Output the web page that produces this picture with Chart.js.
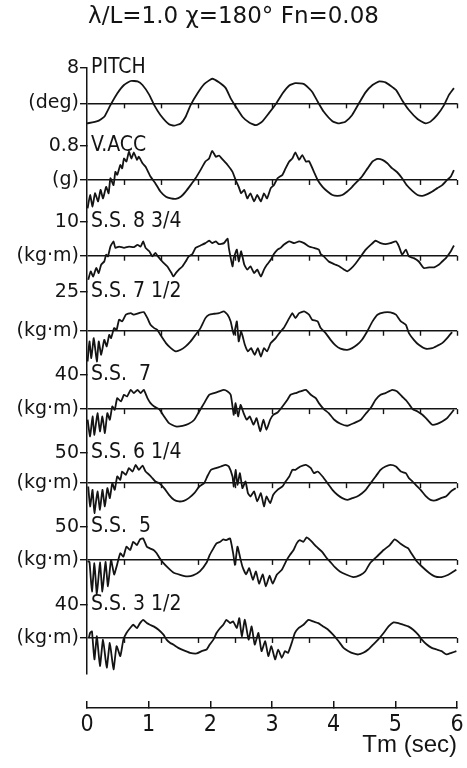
<!DOCTYPE html>
<html>
<head>
<meta charset="utf-8">
<title>Pitch, vertical acceleration and bending moments</title>
<script src="https://cdn.jsdelivr.net/npm/chart.js@4.4.1/dist/chart.umd.min.js"></script>
<style>
  body { margin: 0; background: #fff; }
</style>
</head>
<body>
<canvas id="chart" width="467" height="768"></canvas>
<script>
const titleText = 'λ/L=1.0 χ=180° Fn=0.08'
const channelNames = ['PITCH', 'V.ACC', 'S.S. 8 3/4', 'S.S. 7 1/2', 'S.S.  7', 'S.S. 6 1/4', 'S.S.  5', 'S.S. 3 1/2']
const channelUnits = ['(deg)', '(g)', '(kg·m)', '(kg·m)', '(kg·m)', '(kg·m)', '(kg·m)', '(kg·m)']
const scaleTicks = ['8', '0.8', '10', '25', '40', '50', '50', '40']
const timeTicks = [0, 1, 2, 3, 4, 5, 6]
const markInterval = 0.6

// [time (s), value] pairs for each record
const pitch = [[0.00,-4.5],[0.17,-4.0],[0.28,-3.0],[0.38,-0.4],[0.49,2.2],[0.60,4.1],[0.71,5.0],[0.82,4.9],[0.90,4.1],[1.01,1.9],[1.09,-0.4],[1.19,-2.6],[1.33,-4.7],[1.41,-5.0],[1.52,-4.5],[1.60,-3.0],[1.68,-0.4],[1.79,2.2],[1.90,4.3],[2.03,5.5],[2.14,4.7],[2.25,3.4],[2.33,1.1],[2.41,-0.7],[2.52,-3.0],[2.63,-4.3],[2.74,-4.9],[2.84,-4.1],[2.95,-2.2],[3.06,-0.2],[3.17,2.2],[3.28,4.0],[3.38,4.5],[3.52,4.3],[3.65,2.6],[3.74,0.4],[3.84,-1.9],[3.98,-4.0],[4.09,-4.5],[4.19,-4.1],[4.30,-2.6],[4.41,0.0],[4.52,2.5],[4.63,4.1],[4.74,4.9],[4.84,4.7],[5.01,3.0],[5.11,0.7],[5.22,-1.5],[5.36,-3.5],[5.49,-4.5],[5.57,-4.1],[5.68,-2.6],[5.79,-0.4],[5.87,1.9],[5.95,3.4]]

const vAcc = [[0.01,-0.66],[0.05,-0.35],[0.09,-0.62],[0.13,-0.31],[0.18,-0.50],[0.22,-0.23],[0.26,-0.43],[0.31,-0.16],[0.35,-0.31],[0.38,0.04],[0.43,-0.12],[0.46,0.19],[0.49,0.12],[0.54,0.35],[0.57,0.27],[0.60,0.50],[0.64,0.43],[0.68,0.66],[0.72,0.50],[0.76,0.64],[0.81,0.47],[0.84,0.54],[0.90,0.39],[0.95,0.31],[1.03,0.08],[1.11,-0.08],[1.19,-0.27],[1.28,-0.39],[1.36,-0.43],[1.44,-0.44],[1.52,-0.39],[1.60,-0.27],[1.68,-0.12],[1.76,0.04],[1.84,0.23],[1.92,0.43],[1.98,0.50],[2.03,0.68],[2.09,0.54],[2.14,0.57],[2.19,0.49],[2.28,0.35],[2.36,0.19],[2.41,0.0],[2.46,-0.16],[2.50,-0.31],[2.55,-0.23],[2.60,-0.43],[2.65,-0.31],[2.71,-0.50],[2.76,-0.35],[2.82,-0.50],[2.87,-0.31],[2.92,-0.43],[2.98,-0.19],[3.03,-0.12],[3.09,0.04],[3.17,0.12],[3.22,0.27],[3.28,0.43],[3.33,0.50],[3.38,0.64],[3.44,0.47],[3.49,0.58],[3.55,0.43],[3.60,0.44],[3.68,0.19],[3.74,0.0],[3.82,-0.16],[3.90,-0.27],[3.98,-0.35],[4.06,-0.37],[4.14,-0.35],[4.22,-0.27],[4.30,-0.16],[4.38,-0.04],[4.46,0.08],[4.55,0.27],[4.63,0.43],[4.71,0.49],[4.79,0.47],[4.87,0.39],[4.95,0.27],[5.03,0.18],[5.11,0.04],[5.19,-0.13],[5.28,-0.26],[5.36,-0.35],[5.44,-0.37],[5.52,-0.33],[5.60,-0.27],[5.68,-0.19],[5.76,-0.12],[5.84,0.0],[5.90,0.08],[5.95,0.23]]

const ss834 = [[0.02,-7.1],[0.06,-4.6],[0.10,-6.1],[0.15,-3.6],[0.19,-5.1],[0.23,-2.6],[0.28,-1.7],[0.31,0.3],[0.34,-0.2],[0.38,2.7],[0.43,4.2],[0.46,2.3],[0.52,2.7],[0.60,2.3],[0.68,2.7],[0.76,2.5],[0.82,3.2],[0.87,2.7],[0.91,4.2],[0.95,2.3],[1.01,1.3],[1.06,-0.2],[1.11,0.8],[1.15,-0.2],[1.22,-1.7],[1.30,-3.1],[1.37,-5.1],[1.40,-6.1],[1.44,-5.1],[1.49,-4.1],[1.55,-3.1],[1.60,-1.7],[1.65,-0.2],[1.71,0.5],[1.76,2.3],[1.84,3.0],[1.92,3.7],[1.98,4.4],[2.03,3.7],[2.09,4.2],[2.14,3.4],[2.22,3.7],[2.28,5.0],[2.30,2.3],[2.36,-3.1],[2.38,-0.7],[2.43,1.8],[2.46,-1.7],[2.50,1.3],[2.55,-2.6],[2.60,-4.1],[2.65,-3.1],[2.71,-5.1],[2.76,-4.1],[2.82,-6.1],[2.87,-4.1],[2.92,-2.6],[2.98,-1.2],[3.03,0.5],[3.09,1.8],[3.14,2.3],[3.19,3.2],[3.28,4.2],[3.36,3.7],[3.44,4.2],[3.52,3.7],[3.60,2.7],[3.68,2.3],[3.76,1.8],[3.79,0.5],[3.84,-0.2],[3.92,-1.7],[4.01,-2.5],[4.09,-3.1],[4.17,-4.1],[4.22,-4.6],[4.28,-3.8],[4.36,-2.2],[4.44,-0.2],[4.52,1.8],[4.60,3.2],[4.68,4.4],[4.76,3.7],[4.84,3.4],[4.92,3.7],[5.01,4.2],[5.06,2.7],[5.11,0.3],[5.17,1.8],[5.22,-0.2],[5.30,-0.7],[5.38,-1.7],[5.46,-3.6],[5.55,-3.4],[5.63,-3.4],[5.71,-2.6],[5.76,-1.7],[5.82,-0.7],[5.90,1.3],[5.95,3.0]]

const ss712 = [[0.01,-19.7],[0.04,-6.8],[0.07,-17.5],[0.11,-4.7],[0.16,-19.7],[0.19,-6.8],[0.23,-15.4],[0.28,-5.8],[0.32,-10.0],[0.36,-2.6],[0.39,-4.7],[0.44,1.7],[0.48,0.6],[0.52,7.1],[0.57,6.0],[0.63,10.3],[0.71,11.3],[0.76,10.3],[0.84,11.3],[0.92,12.0],[0.98,8.1],[1.03,3.8],[1.09,1.7],[1.14,0.6],[1.19,-2.6],[1.28,-7.9],[1.36,-11.1],[1.44,-13.2],[1.52,-12.2],[1.60,-10.0],[1.68,-6.8],[1.76,-2.6],[1.84,1.7],[1.92,8.1],[1.98,10.3],[2.06,10.9],[2.14,11.3],[2.22,12.4],[2.28,10.3],[2.33,6.0],[2.38,-2.6],[2.43,6.0],[2.46,-6.8],[2.50,-0.4],[2.56,-9.0],[2.61,-13.2],[2.66,-11.1],[2.72,-15.4],[2.77,-11.1],[2.82,-16.5],[2.87,-11.1],[2.92,-13.2],[2.98,-7.9],[3.06,-4.7],[3.14,-0.4],[3.19,1.7],[3.28,8.1],[3.33,11.3],[3.38,8.1],[3.44,11.3],[3.52,12.4],[3.60,10.3],[3.65,7.1],[3.74,6.0],[3.79,1.7],[3.87,-1.5],[3.95,-5.8],[4.03,-9.4],[4.11,-11.5],[4.22,-12.2],[4.30,-11.1],[4.38,-9.0],[4.46,-5.8],[4.55,0.0],[4.63,6.0],[4.71,10.3],[4.82,11.8],[4.92,11.8],[5.01,10.3],[5.09,6.0],[5.17,3.8],[5.22,-1.5],[5.30,-5.8],[5.38,-9.0],[5.49,-11.5],[5.60,-11.1],[5.68,-9.6],[5.76,-7.9],[5.84,-4.7],[5.92,-0.9]]

const ss7 = [[0.01,-12.4],[0.05,-31.8],[0.09,-8.5],[0.12,-29.9],[0.17,-4.7],[0.21,-26.0],[0.25,-8.5],[0.29,-27.9],[0.33,-4.7],[0.37,-12.4],[0.41,3.1],[0.45,-0.8],[0.49,12.8],[0.55,8.9],[0.60,16.7],[0.65,14.7],[0.71,22.5],[0.76,18.6],[0.82,22.5],[0.87,18.6],[0.92,22.5],[0.98,12.8],[1.03,7.0],[1.09,3.1],[1.17,0.0],[1.25,-8.5],[1.33,-16.3],[1.44,-20.2],[1.55,-19.4],[1.65,-17.1],[1.74,-12.4],[1.82,-2.7],[1.90,7.0],[1.98,16.7],[2.06,18.6],[2.14,20.6],[2.22,22.5],[2.28,20.6],[2.33,16.7],[2.36,3.1],[2.38,-6.6],[2.41,7.0],[2.45,-8.5],[2.49,5.0],[2.54,-4.7],[2.59,-12.4],[2.64,-8.5],[2.70,-18.2],[2.75,-10.5],[2.81,-26.0],[2.86,-12.4],[2.91,-24.1],[2.97,-12.4],[3.02,-6.6],[3.09,-3.9],[3.17,3.1],[3.25,10.9],[3.30,16.7],[3.38,18.6],[3.46,20.6],[3.55,22.5],[3.63,16.7],[3.71,12.8],[3.76,7.0],[3.84,0.0],[3.92,-4.7],[4.01,-12.4],[4.11,-17.1],[4.22,-19.4],[4.33,-16.3],[4.44,-12.4],[4.52,-5.4],[4.60,1.2],[4.68,10.9],[4.76,16.7],[4.84,18.6],[4.95,22.5],[5.03,20.6],[5.11,14.7],[5.19,8.9],[5.28,0.0],[5.36,-2.7],[5.44,-6.6],[5.52,-12.4],[5.60,-18.2],[5.68,-17.1],[5.76,-14.4],[5.84,-10.5],[5.95,-0.8]]

const ss614 = [[0.02,-5.5],[0.05,-38.4],[0.09,-11.0],[0.12,-49.4],[0.17,-13.7],[0.21,-43.9],[0.25,-11.0],[0.29,-38.4],[0.33,-8.2],[0.37,-24.7],[0.41,0.0],[0.45,-11.0],[0.49,11.0],[0.54,5.5],[0.57,19.2],[0.63,13.7],[0.68,24.7],[0.74,19.2],[0.79,30.2],[0.84,22.0],[0.90,29.1],[0.95,19.2],[1.01,13.7],[1.06,8.2],[1.11,2.7],[1.17,0.0],[1.25,-8.2],[1.33,-19.2],[1.41,-27.5],[1.49,-30.2],[1.57,-29.1],[1.65,-24.7],[1.74,-16.5],[1.82,-5.5],[1.90,0.0],[1.95,11.0],[2.01,22.0],[2.09,24.7],[2.17,27.5],[2.25,30.2],[2.30,27.5],[2.36,11.0],[2.38,-5.5],[2.41,22.0],[2.44,-2.7],[2.48,16.5],[2.52,-8.2],[2.57,2.7],[2.61,-16.5],[2.65,-22.0],[2.71,-13.7],[2.76,-30.2],[2.82,-16.5],[2.87,-38.4],[2.91,-22.0],[2.97,-33.0],[3.02,-19.2],[3.09,-11.0],[3.17,-5.5],[3.22,2.7],[3.28,11.0],[3.33,22.0],[3.38,22.0],[3.46,27.5],[3.55,30.2],[3.63,24.7],[3.68,16.5],[3.74,19.2],[3.82,11.0],[3.90,0.0],[3.98,-11.0],[4.06,-19.2],[4.14,-24.7],[4.22,-27.5],[4.30,-24.7],[4.38,-22.0],[4.46,-16.5],[4.52,-11.0],[4.60,0.0],[4.68,11.0],[4.76,22.0],[4.84,27.5],[4.92,30.2],[5.01,27.5],[5.09,19.2],[5.17,16.5],[5.22,8.2],[5.28,2.7],[5.33,-2.7],[5.41,-11.0],[5.49,-20.9],[5.57,-27.5],[5.65,-28.5],[5.74,-24.7],[5.82,-22.0],[5.90,-13.7],[5.98,-8.2]]

const ss5 = [[0.01,-2],[0.04,-3],[0.08,-48],[0.12,-5],[0.16,-52],[0.21,-4],[0.25,-48],[0.30,-3],[0.34,-40],[0.39,0],[0.44,-22],[0.48,-10],[0.54,10],[0.59,5],[0.64,20],[0.70,15],[0.75,27.5],[0.81,22.5],[0.86,31],[0.91,32.5],[0.97,20],[1.02,17.5],[1.08,15],[1.13,10],[1.18,2.5],[1.24,-5],[1.32,-12.5],[1.40,-19],[1.51,-22.5],[1.62,-25],[1.72,-23.5],[1.83,-17.5],[1.94,-4],[1.99,7.5],[2.05,17.5],[2.10,25],[2.16,27.5],[2.21,31],[2.26,30],[2.32,32.5],[2.37,10],[2.40,-7.5],[2.44,20],[2.48,5],[2.52,-10],[2.58,-22],[2.63,-12.5],[2.69,-30],[2.74,-17.5],[2.79,-36],[2.85,-22],[2.90,-40],[2.96,-24],[3.01,-36],[3.08,-22],[3.16,-15],[3.24,0],[3.29,7.5],[3.35,15],[3.40,25],[3.45,30],[3.51,27.5],[3.56,34],[3.62,30],[3.67,25],[3.72,20],[3.81,12.5],[3.89,2.5],[3.94,-2.5],[4.02,-11],[4.10,-17.5],[4.21,-22.5],[4.32,-26],[4.43,-23],[4.51,-17.5],[4.59,-5],[4.70,5],[4.81,15],[4.91,22.5],[4.99,31],[5.08,25],[5.16,20],[5.21,17.5],[5.26,10],[5.35,-2.5],[5.43,-10],[5.54,-19],[5.64,-25],[5.75,-26],[5.86,-22.5],[5.99,-15]]

const ss312 = [[0.03,0],[0.05,6],[0.08,8],[0.12,-26],[0.16,2],[0.21,-34],[0.26,-2],[0.32,-36],[0.37,-6],[0.43,-38],[0.48,-10],[0.54,-22],[0.59,-2],[0.64,6],[0.70,12],[0.75,16],[0.81,12],[0.86,18],[0.91,22],[0.97,18],[1.02,16],[1.08,14],[1.16,10],[1.24,4],[1.29,-2],[1.35,-6],[1.40,-8],[1.48,-12],[1.56,-14.8],[1.67,-18],[1.78,-18.8],[1.86,-16],[1.94,-14],[1.99,-8],[2.05,-2],[2.10,6],[2.16,12],[2.21,16],[2.26,22],[2.32,18],[2.37,20],[2.43,12],[2.47,24],[2.51,2],[2.56,22],[2.62,-2],[2.67,14],[2.72,-8],[2.78,6],[2.83,-16],[2.89,-4],[2.94,-22],[2.99,-10],[3.05,-26],[3.10,-14],[3.16,-24],[3.21,-16],[3.26,-18],[3.32,-6],[3.37,6],[3.43,12],[3.51,16],[3.59,22],[3.67,20],[3.75,18],[3.83,14],[3.91,10],[3.99,4],[4.08,-4],[4.16,-12],[4.24,-16],[4.32,-18.8],[4.40,-20],[4.48,-18],[4.56,-14],[4.64,-8],[4.72,-2],[4.81,6],[4.89,14],[4.97,18.8],[5.05,18],[5.13,16],[5.21,14],[5.29,10],[5.37,4],[5.43,-2],[5.51,-8],[5.59,-12],[5.67,-14],[5.75,-16],[5.83,-20],[5.91,-18],[5.99,-16]]

const records = [pitch, vAcc, ss834, ss712, ss7, ss614, ss5, ss312]

const INK = '#141414'
const NARROW = "'Liberation Sans Narrow', 'DejaVu Sans Condensed', 'Liberation Sans', sans-serif"
const WIDE = "'DejaVu Sans', 'Liberation Sans', sans-serif"

// each record gets its own strip of the left axis; top of strip = full-scale tick
const stripHeights = [78, 76, 70, 83, 78, 74, 78, 69]
const zeroOffsets = [35.7, 34.3, 34, 39, 34.3, 30.3, 33, 33]

const scales = {
    x: {
        type: 'linear',
        position: 'bottom',
        min: 0,
        max: 6,
        afterBuildTicks: s => { s.ticks = timeTicks.map(v => ({ value: v })) },
        ticks: { color: INK, padding: 10, autoSkip: false, maxRotation: 0, font: { family: NARROW, size: 23 } },
        grid: { drawOnChartArea: false, tickLength: -7, tickColor: INK, lineWidth: 1.5 },
        border: { color: INK, width: 1.5 },
        title: { display: true, text: 'Tm (sec)', align: 'end', color: INK, font: { family: "'Liberation Sans', sans-serif", size: 24 }, padding: { top: 0, bottom: 8 } },
        // fixed band under the records; keep the right margin tight
        afterFit: s => {
            s.height = 60
            s.paddingLeft = 0
            s.paddingRight = 10
        }
    }
}

channelNames.forEach((name, i) => {
    const top = parseFloat(scaleTicks[i])
    scales['y' + i] = {
        type: 'linear',
        position: 'left',
        stack: 'records',
        stackWeight: stripHeights[i],
        weight: 20 - i,
        min: -top * (stripHeights[i] - zeroOffsets[i]) / zeroOffsets[i],
        max: top,
        afterBuildTicks: s => { s.ticks = [{ value: top }, { value: 0 }] },
        ticks: {
            color: INK,
            padding: 1,
            autoSkip: false,
            font: { family: WIDE, size: 19 },
            callback: v => v === 0 ? channelUnits[i] : scaleTicks[i]
        },
        grid: {
            color: c => (c.tick && c.tick.value === 0) ? INK : 'rgba(0,0,0,0)',
            tickColor: INK,
            tickLength: 7,
            lineWidth: 1.4
        },
        border: { color: INK, width: 1.5 },
        afterFit: s => { s.width = 87 }
    }
})

// empty strip between the last record and the time axis
scales.gap = { type: 'linear', position: 'left', stack: 'records', stackWeight: 34, weight: 0, display: false }

// small marks hanging under each zero line and the record names
const recordMarks = {
    id: 'recordMarks',
    afterDatasetsDraw(chart) {
        const { ctx, chartArea, scales } = chart
        const xs = scales.x
        ctx.save()
        ctx.strokeStyle = INK
        ctx.lineWidth = 1.4
        ctx.fillStyle = INK
        ctx.font = `21px ${NARROW}`
        ctx.textAlign = 'left'
        ctx.textBaseline = 'middle'
        channelNames.forEach((name, i) => {
            const ys = scales['y' + i]
            const y0 = ys.getPixelForValue(0)
            for (let t = markInterval; t <= 6.001; t += markInterval) {
                const px = Math.round(xs.getPixelForValue(t)) + 0.5
                ctx.beginPath()
                ctx.moveTo(px, y0)
                ctx.lineTo(px, y0 + 5)
                ctx.stroke()
            }
            ctx.fillText(name, chartArea.left + 4, ys.getPixelForValue(ys.max))
        })
        ctx.restore()
    }
}

new Chart(document.getElementById('chart'), {
    type: 'line',
    data: {
        datasets: records.map((rec, i) => ({
            data: rec.map(([t, v]) => ({ x: t, y: v })),
            xAxisID: 'x',
            yAxisID: 'y' + i,
            borderColor: INK,
            borderWidth: 1.8,
            pointRadius: 0,
            tension: 0.15,
            fill: false
        }))
    },
    options: {
        responsive: false,
        animation: false,
        layout: { padding: 0 },
        plugins: {
            legend: { display: false },
            tooltip: { enabled: false },
            title: {
                display: true,
                text: titleText,
                color: INK,
                font: { family: WIDE, size: 23, weight: 'normal' },
                padding: { top: 3, bottom: 37 }
            }
        },
        scales
    },
    plugins: [recordMarks]
})
</script>
</body>
</html>
